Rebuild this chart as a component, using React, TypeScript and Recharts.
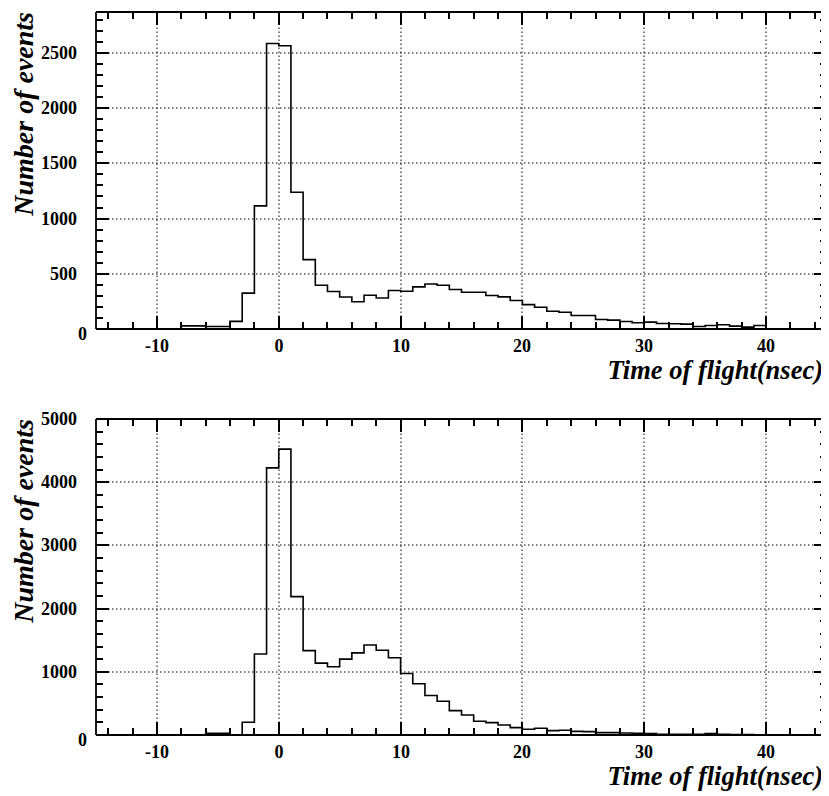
import React from "react";
import { LineChart, Line, XAxis, YAxis } from "recharts";

// lower edge of each 1 ns bin, -15 .. 44
const binEdges = [
  -15, -14, -13, -12, -11, -10, -9, -8, -7, -6, -5, -4, -3, -2, -1,
  0, 1, 2, 3, 4, 5, 6, 7, 8, 9, 10, 11, 12, 13, 14,
  15, 16, 17, 18, 19, 20, 21, 22, 23, 24, 25, 26, 27, 28, 29,
  30, 31, 32, 33, 34, 35, 36, 37, 38, 39, 40, 41, 42, 43, 44,
];

// events per bin, upper histogram
const topCounts = [
  0, 0, 0, 0, 0, 0, 0, 28, 28, 22, 22, 69, 325, 1115, 2585,
  2565, 1238, 628, 396, 340, 290, 247, 306, 280, 348, 342, 381, 408, 396, 357,
  333, 333, 303, 291, 258, 221, 197, 161, 152, 122, 122, 86, 80, 68, 56,
  62, 50, 47, 44, 22, 32, 38, 26, 17, 32, 0, 0, 0, 0, 0,
];

// events per bin, lower histogram
const bottomCounts = [
  0, 0, 0, 0, 0, 0, 0, 0, 0, 27, 27, 5, 202, 1281, 4226,
  4524, 2190, 1335, 1138, 1080, 1200, 1300, 1425, 1340, 1222, 974, 810, 624, 534, 386,
  317, 217, 196, 159, 116, 90, 106, 69, 74, 58, 53, 37, 37, 32, 26,
  21, 11, 11, 11, 11, 21, 10, 8, 6, 5, 0, 0, 0, 0, 0,
];

const xTicks = [
  -14, -12, -10, -8, -6, -4, -2, 0, 2, 4, 6, 8, 10, 12, 14, 16, 18, 20,
  22, 24, 26, 28, 30, 32, 34, 36, 38, 40, 42, 44,
];

const topYTicks = [
  0, 100, 200, 300, 400, 500, 600, 700, 800, 900, 1000, 1100, 1200, 1300, 1400,
  1500, 1600, 1700, 1800, 1900, 2000, 2100, 2200, 2300, 2400, 2500, 2600, 2700, 2800,
];

const bottomYTicks = [
  0, 200, 400, 600, 800, 1000, 1200, 1400, 1600, 1800, 2000, 2200, 2400, 2600,
  2800, 3000, 3200, 3400, 3600, 3800, 4000, 4200, 4400, 4600, 4800, 5000,
];

const FONT = "'Liberation Serif', 'Times New Roman', serif";
const W = 821;
const LEFT_W = 88;
const RIGHT_M = 2;
const PLOT_W = W - LEFT_W - RIGHT_M;
const MAJOR = 13;
const MINOR = 7;
const DOTS = "1.5 2.5";

// bottom ticks + mirrored top ticks + vertical dotted grid at labelled values
const bottomTick = (plotH: number) => (props: any) => {
  const x = Math.round(Number(props.x));
  const y = Number(props.y);
  const v = props.payload.value;
  const major = v % 10 === 0;
  const len = major ? MAJOR : MINOR;
  const top = y - plotH;
  return (
    <g>
      {major && <line x1={x} x2={x} y1={y} y2={top} stroke="#000" strokeWidth={1} strokeDasharray={DOTS} />}
      <path
        d={`M${x},${y}L${x},${y - len}M${x},${top}L${x},${top + len}`}
        stroke="#000"
        strokeWidth={2}
        fill="none"
      />
      {major && (
        <text x={x} y={y + 23} textAnchor="middle" fontFamily={FONT} fontWeight="bold" fontSize={18} fill="#000">
          {v}
        </text>
      )}
    </g>
  );
};

// left ticks + mirrored right ticks + horizontal dotted grid; the zero tick also closes the frame
const leftTick = (step: number, yMax: number, plotH: number) => (props: any) => {
  const x = Number(props.x);
  const y = Math.round(Number(props.y));
  const v = props.payload.value;
  const major = v % step === 0;
  const len = major ? MAJOR : MINOR;
  const zero = v === 0;
  const right = x + PLOT_W;
  return (
    <g>
      {major && v > 0 && v < yMax && (
        <line x1={x} x2={right} y1={y} y2={y} stroke="#000" strokeWidth={1} strokeDasharray={DOTS} />
      )}
      {zero && (
        <path
          d={`M${x},${y - plotH}L${right},${y - plotH}L${right},${y}`}
          stroke="#000"
          strokeWidth={1.8}
          fill="none"
        />
      )}
      <path
        d={`M${x},${y}L${x + len},${y}M${right},${y}L${right - len},${y}`}
        stroke="#000"
        strokeWidth={2}
        fill="none"
      />
      {major && (
        <text
          x={zero ? x - 9 : x - 19}
          y={zero ? y + 11 : y + 6}
          textAnchor="end"
          fontFamily={FONT}
          fontWeight="bold"
          fontSize={18}
          fill="#000"
        >
          {v}
        </text>
      )}
    </g>
  );
};

// both axis titles, placed from the x axis box
const titles = (plotH: number) => (props: any) => {
  const vb = props.viewBox || {};
  const tx = 25;
  const ty = vb.y - plotH;
  return (
    <g>
      <text
        x={vb.x + vb.width - 4}
        y={vb.y + 50}
        textAnchor="end"
        fontFamily={FONT}
        fontWeight="bold"
        fontStyle="italic"
        fontSize={26.5}
        fill="#000"
      >
        Time of flight(nsec)
      </text>
      <text
        x={tx}
        y={ty}
        transform={`rotate(-90 ${tx} ${ty})`}
        textAnchor="end"
        fontFamily={FONT}
        fontWeight="bold"
        fontStyle="italic"
        fontSize={28}
        fill="#000"
      >
        Number of events
      </text>
    </g>
  );
};

type PanelProps = {
  counts: number[];
  yMax: number;
  yTicks: number[];
  yStep: number;
  height: number;
  topPad: number;
  bottomPad: number;
};

const Panel = ({ counts, yMax, yTicks, yStep, height, topPad, bottomPad }: PanelProps) => {
  const data = binEdges.map((x, i) => ({ x, n: counts[i] })).concat([{ x: 45, n: 0 }]);
  const plotH = height - topPad - bottomPad;
  const axisLine = { stroke: "#000", strokeWidth: 1.8 };
  return (
    <LineChart width={W} height={height} data={data} margin={{ top: topPad, right: RIGHT_M, bottom: 0, left: 0 }}>
      <XAxis
        dataKey="x"
        type="number"
        domain={[-15, 45]}
        allowDataOverflow
        ticks={xTicks}
        interval={0}
        tickSize={0}
        tickMargin={0}
        tickLine={false}
        axisLine={axisLine}
        tick={bottomTick(plotH)}
        height={bottomPad}
        label={titles(plotH)}
      />
      <YAxis
        type="number"
        domain={[0, yMax]}
        allowDataOverflow
        ticks={yTicks}
        interval={0}
        tickSize={0}
        tickMargin={0}
        tickLine={false}
        axisLine={axisLine}
        tick={leftTick(yStep, yMax, plotH)}
        width={LEFT_W}
      />
      <Line type="stepAfter" dataKey="n" stroke="#000" strokeWidth={1.6} dot={false} isAnimationActive={false} />
    </LineChart>
  );
};

export default function App() {
  return (
    <div style={{ width: W, background: "#fff" }}>
      <Panel counts={topCounts} yMax={2870} yTicks={topYTicks} yStep={500} height={385} topPad={4} bottomPad={64} />
      <Panel counts={bottomCounts} yMax={5000} yTicks={bottomYTicks} yStep={1000} height={400} topPad={26} bottomPad={58} />
    </div>
  );
}
